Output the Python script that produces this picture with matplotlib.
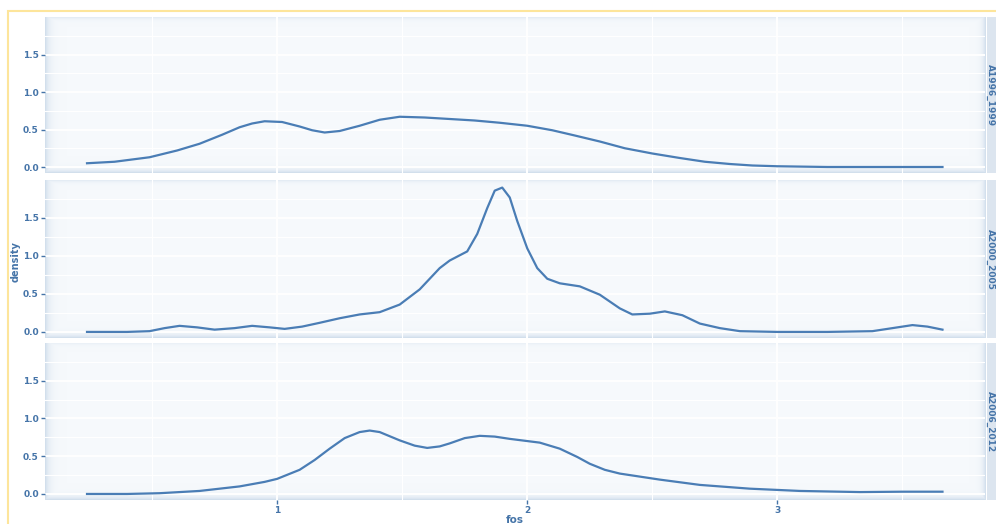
import numpy as np
import matplotlib
matplotlib.use('Agg')
import matplotlib.pyplot as plt
from matplotlib.patches import Rectangle

# facet labels
periods = ['A1996_1999', 'A2000_2005', 'A2006_2012']

# density curves (fos, density)
fos_1 = [0.24, 0.35, 0.49, 0.6, 0.69, 0.78, 0.85, 0.9, 0.95, 1.02, 1.09, 1.14, 1.19, 1.25, 1.33, 1.41, 1.49,
         1.59, 1.69, 1.79, 1.89, 2.0, 2.1, 2.19, 2.29, 2.39, 2.5, 2.61, 2.71, 2.81, 2.9, 3.0, 3.2, 3.4, 3.66]
dens_1 = [0.05, 0.07, 0.13, 0.22, 0.31, 0.43, 0.53, 0.58, 0.61, 0.6, 0.54, 0.49, 0.46, 0.48, 0.55, 0.63, 0.67,
          0.66, 0.64, 0.62, 0.59, 0.55, 0.49, 0.42, 0.34, 0.25, 0.18, 0.12, 0.07, 0.04, 0.02, 0.01, 0.0, 0.0, 0.0]

fos_2 = [0.24, 0.4, 0.49, 0.55, 0.61, 0.68, 0.75, 0.83, 0.9, 0.97, 1.03, 1.1, 1.17, 1.25, 1.33, 1.41,
         1.49, 1.57, 1.65, 1.69, 1.76, 1.8, 1.84, 1.87, 1.9, 1.93, 1.96, 2.0, 2.04, 2.08, 2.13, 2.21,
         2.29, 2.37, 2.42, 2.49, 2.55, 2.62, 2.69, 2.77, 2.85, 3.0, 3.2, 3.38, 3.46, 3.54, 3.6, 3.66]
dens_2 = [0.0, 0.0, 0.01, 0.05, 0.08, 0.06, 0.03, 0.05, 0.08, 0.06, 0.04, 0.07, 0.12, 0.18, 0.23, 0.26,
          0.36, 0.56, 0.84, 0.94, 1.06, 1.29, 1.63, 1.86, 1.9, 1.77, 1.46, 1.1, 0.84, 0.7, 0.64, 0.6,
          0.49, 0.31, 0.23, 0.24, 0.27, 0.22, 0.11, 0.05, 0.01, 0.0, 0.0, 0.01, 0.05, 0.09, 0.07, 0.03]

fos_3 = [0.24, 0.4, 0.53, 0.69, 0.85, 0.95, 1.0, 1.09, 1.15, 1.21, 1.27, 1.33, 1.37, 1.41, 1.49, 1.55, 1.6,
         1.65, 1.69, 1.75, 1.81, 1.87, 1.93, 2.05, 2.13, 2.2, 2.25, 2.31, 2.37, 2.53, 2.69, 2.89, 3.09, 3.33, 3.5, 3.66]
dens_3 = [0.0, 0.0, 0.01, 0.04, 0.1, 0.16, 0.2, 0.32, 0.45, 0.6, 0.74, 0.82, 0.84, 0.82, 0.71, 0.64, 0.61,
          0.63, 0.67, 0.74, 0.77, 0.76, 0.73, 0.68, 0.6, 0.49, 0.4, 0.32, 0.27, 0.19, 0.12, 0.07, 0.04, 0.025, 0.03, 0.03]

series = [(fos_1, dens_1), (fos_2, dens_2), (fos_3, dens_3)]

txt_col = '#4574A8'
line_col = '#4A7DB5'

fig = plt.figure(figsize=(9.96, 5.24), dpi=100)

# yellow outer frame
fig.add_artist(Rectangle((8 / 996, -0.1), 1.2, 1 - 11 / 524 + 0.1, transform=fig.transFigure,
                         fill=False, edgecolor='#FDE59B', linewidth=1.5))

# panel boxes in pixels (top, bottom)
boxes = [(17, 173), (180, 338), (343, 500)]
left, right = 45, 985

for i, ((top, bot), (xs, ys)) in enumerate(zip(boxes, series)):
    h = bot - top
    ax = fig.add_axes([left / 996, 1 - bot / 524, (right - left) / 996, h / 524])
    ax.set_facecolor('#F6F9FC')

    # soft bluish edge shading, pixel sized
    w = right - left
    px = np.arange(w)[None, :]
    py = np.arange(h)[:, None]
    edge = np.maximum(np.exp(-px / 4.0), np.exp(-py / 3.0))
    edge = np.maximum(edge, np.exp(-(w - 1 - px) / 3.0))
    edge = np.maximum(edge, 0.5 * np.exp(-(h - 1 - py) / 2.0))
    shade = np.zeros((h, w, 4))
    shade[..., 0] = 0.80
    shade[..., 1] = 0.86
    shade[..., 2] = 0.92
    shade[..., 3] = 0.85 * edge
    ax.imshow(shade, extent=[0, 1, 0, 1], transform=ax.transAxes, origin='lower',
              aspect='auto', zorder=0.5, interpolation='nearest')

    ax.plot(xs, ys, color=line_col, linewidth=1.6, zorder=3, solid_joinstyle='round')
    ax.set_xlim(0.072, 3.83)
    ax.set_ylim(-0.08, 2.0)
    ax.set_xticks([1, 2, 3])
    ax.set_xticks([0.5, 1.5, 2.5, 3.5], minor=True)
    ax.set_yticks([0, 0.5, 1.0, 1.5])
    ax.set_yticks([0.25, 0.75, 1.25, 1.75], minor=True)
    ax.set_yticklabels(['0.0', '0.5', '1.0', '1.5'])
    ax.grid(True, which='major', color='white', linewidth=1.4, zorder=1)
    ax.grid(True, which='minor', color='white', linewidth=0.8, zorder=1)
    ax.set_axisbelow(True)
    for s in ax.spines.values():
        s.set_visible(False)
    ax.tick_params(axis='both', which='major', colors=txt_col, labelsize=6.5, length=3, width=1, pad=1.5)
    ax.tick_params(which='minor', length=0)
    for lab in ax.get_yticklabels() + ax.get_xticklabels():
        lab.set_fontweight('bold')
    if i < 2:
        ax.tick_params(axis='x', labelbottom=False, length=0)

    # strip on the right
    sax = fig.add_axes([987 / 996, 1 - bot / 524, 9 / 996, h / 524])
    sax.set_facecolor('#DCE5EF')
    sax.set_xticks([])
    sax.set_yticks([])
    for s in sax.spines.values():
        s.set_visible(False)
    sax.text(0.35, 0.5, periods[i], rotation=-90, ha='center', va='center', color=txt_col,
             fontsize=6.5, fontweight='bold', transform=sax.transAxes)

fig.text(16 / 996, 1 - 262 / 524, 'density', rotation=90, ha='center', va='center',
         color=txt_col, fontsize=7, fontweight='bold')
fig.text(515 / 996, 1 - 520 / 524, 'fos', ha='center', va='center',
         color=txt_col, fontsize=7.5, fontweight='bold')

fig.savefig('out.png', dpi=100, facecolor='white')
